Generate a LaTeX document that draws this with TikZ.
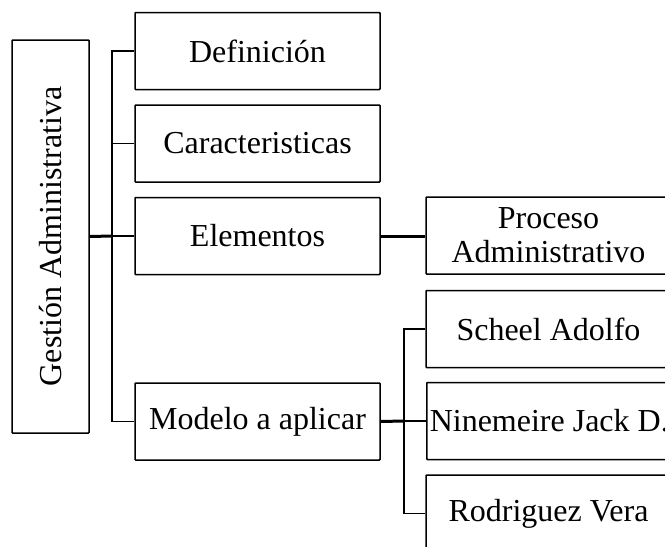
\documentclass[tikz,border=0pt]{standalone}
\usepackage{fontspec}
\setmainfont{Liberation Serif}
\begin{document}
\begin{tikzpicture}[x=1pt,y=-1pt,
  box/.style={draw, line width=1.5pt, rounded corners=0.8pt, inner sep=0pt,
    minimum width=245pt, minimum height=77pt, align=center,
    font=\fontsize{32}{34}\selectfont},
  link/.style={line width=1.5pt},
  heavy/.style={line width=3pt}]
\clip (0,0) rectangle (665,547);

% root box, text running upwards
\node[box, rotate=90, minimum width=393pt, minimum height=77pt] (root) at (50.5,236.5) {Gestión Administrativa};

% first level
\node[box] (def) at (257.5,51)   {Definición};
\node[box] (car) at (257.5,143.5) {Caracteristicas};
\node[box] (ele) at (257.5,236)  {Elementos};
\node[box] (mod) at (257.5,421.5) {Modelo a aplicar};

% second level
\node[box] (pro) at (548.5,235.5) {Proceso\\Administrativo};
\node[box] (sch) at (548.5,329)   {Scheel Adolfo};
\node[box, anchor=west, minimum width=0pt, inner xsep=3pt] (nin) at (426,421) {Ninemeire Jack D.};
\node[box] (rod) at (548.5,513.5) {Rodriguez Vera};

% branch junctions
\coordinate (trunk) at (112,236);
\coordinate (fork) at (404,421);

% root bracket
\draw[link] (def.west) -| (trunk) |- (mod.west);
\draw[link] (car.west) -- (car.west -| trunk);
\draw[link] (ele.west) -- (trunk);
\draw[heavy] (root.south) -- (trunk);

% Elementos -> Proceso
\draw[heavy] (ele.east) -- (ele.east -| pro.west);

% Modelo bracket
\draw[heavy] (mod.east) -- (fork);
\draw[link] (fork) -- (nin.west);
\draw[link] (sch.west) -| (fork) |- (rod.west);
\end{tikzpicture}
\end{document}
